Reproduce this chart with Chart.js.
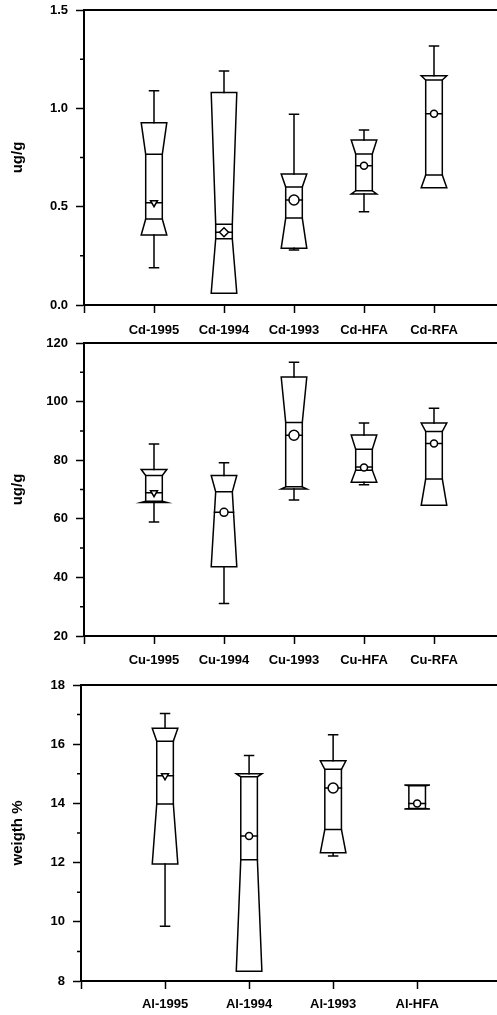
<!DOCTYPE html>
<html>
<head>
<meta charset="utf-8">
<script src="https://cdn.jsdelivr.net/npm/chart.js@4.4.1/dist/chart.umd.min.js"></script>
<style>
  html, body { margin: 0; padding: 0; background: #fff; }
  body { width: 497px; height: 1015px; position: relative; overflow: hidden; }
  canvas { position: absolute; left: 0; }
</style>
</head>
<body>
<canvas id="cdChart" width="497" height="345" style="top:0px"></canvas>
<canvas id="cuChart" width="497" height="345" style="top:333px"></canvas>
<canvas id="alChart" width="497" height="340" style="top:675px"></canvas>
<script>
// each box: [lower whisker, Q1, notch low, median, notch high, Q3, upper whisker]
const cdCategories = ["Cd-1995", "Cd-1994", "Cd-1993", "Cd-HFA", "Cd-RFA"];
const cdBoxes = [
    [0.19, 0.356, 0.437, 0.52, 0.766, 0.927, 1.09],
    [null, 0.06, 0.337, 0.37, 0.41, 1.08, 1.19],
    [0.28, 0.288, 0.442, 0.534, 0.60, 0.666, 0.97],
    [0.474, 0.564, 0.581, 0.708, 0.768, 0.839, 0.89],
    [null, 0.596, 0.661, 0.973, 1.144, 1.166, 1.317]
];
const cdMeans = [0.52, 0.37, 0.534, 0.708, 0.973];

const cuCategories = ["Cu-1995", "Cu-1994", "Cu-1993", "Cu-HFA", "Cu-RFA"];
const cuBoxes = [
    [58.9, 65.6, 66.0, 68.9, 74.8, 76.8, 85.5],
    [31.1, 43.6, 69.2, 62.2, 69.2, 74.8, 79.1],
    [66.4, 70.2, 70.9, 88.5, 92.9, 108.4, 113.4],
    [71.6, 72.5, 76.6, 77.7, 83.7, 88.6, 92.7],
    [null, 64.6, 73.6, 85.7, 89.8, 92.7, 97.7]
];
const cuMeans = [68.9, 62.2, 88.5, 77.5, 85.7];

const alCategories = ["Al-1995", "Al-1994", "Al-1993", "Al-HFA"];
const alBoxes = [
    [9.85, 11.95, 13.98, 14.93, 16.1, 16.54, 17.04],
    [null, 8.33, 12.1, 12.9, 14.9, 15.0, 15.62],
    [12.22, 12.33, 13.12, 14.52, 15.15, 15.44, 16.32],
    [null, 13.81, 13.83, 14.0, 14.6, 14.62, null]
];
const alMeans = [14.93, 12.9, 14.52, 14.0];

Chart.defaults.color = "#000";
Chart.defaults.font.family = "'Liberation Sans', Arial, sans-serif";

// draws the notched boxes + whiskers from the box arrays through the chart scales
const notchBoxes = {
    id: "notchBoxes",
    beforeDatasetsDraw(chart, args, opts) {
        const { ctx, chartArea, scales: { x, y } } = chart;
        const W = opts.wide, w = opts.narrow, cap = 4.5;
        ctx.save();
        ctx.strokeStyle = "#000";
        ctx.lineCap = "butt";

        // top frame line
        ctx.lineWidth = 2;
        ctx.beginPath();
        ctx.moveTo(chartArea.left, chartArea.top);
        ctx.lineTo(chartArea.right, chartArea.top);
        ctx.stroke();

        // short minor ticks on the y axis (the unlabelled ones)
        ctx.lineWidth = 1.5;
        ctx.beginPath();
        y.ticks.forEach(t => {
            if (t.label === "") {
                const p = y.getPixelForValue(t.value);
                ctx.moveTo(chartArea.left - 4, p);
                ctx.lineTo(chartArea.left, p);
            }
        });
        ctx.stroke();

        ctx.lineCap = "square";
        opts.boxes.forEach((b, i) => {
            const [wLo, q1, nLo, med, nHi, q3, wHi] = b;
            const cx = x.getPixelForValue(i + 1);
            const py = v => y.getPixelForValue(v);
            // half width of the body at a given value
            const halfAt = v => {
                if (v >= nHi) return q3 === nHi ? w : w + (W - w) * (v - nHi) / (q3 - nHi);
                if (v <= nLo) return q1 === nLo ? w : w + (W - w) * (nLo - v) / (nLo - q1);
                return w;
            };

            ctx.beginPath();
            ctx.moveTo(cx - W, py(q3));
            ctx.lineTo(cx + W, py(q3));
            ctx.lineTo(cx + w, py(nHi));
            ctx.lineTo(cx + w, py(nLo));
            ctx.lineTo(cx + W, py(q1));
            ctx.lineTo(cx - W, py(q1));
            ctx.lineTo(cx - w, py(nLo));
            ctx.lineTo(cx - w, py(nHi));
            ctx.closePath();
            ctx.stroke();

            ctx.beginPath();
            [nLo, nHi].forEach(v => {
                ctx.moveTo(cx - w, py(v));
                ctx.lineTo(cx + w, py(v));
            });
            const hm = halfAt(med);
            ctx.moveTo(cx - hm, py(med));
            ctx.lineTo(cx + hm, py(med));

            if (wHi !== null) {
                ctx.moveTo(cx, py(q3));
                ctx.lineTo(cx, py(wHi));
                ctx.moveTo(cx - cap, py(wHi));
                ctx.lineTo(cx + cap, py(wHi));
            }
            if (wLo !== null) {
                ctx.moveTo(cx, py(q1));
                ctx.lineTo(cx, py(wLo));
                ctx.moveTo(cx - cap, py(wLo));
                ctx.lineTo(cx + cap, py(wLo));
            }
            ctx.stroke();
        });
        ctx.restore();
    }
};

function makeChart(id, cats, boxes, means, cfg) {
    const ctx = document.getElementById(id).getContext("2d");
    return new Chart(ctx, {
        type: "scatter",
        data: {
            datasets: [{
                data: means.map((m, i) => ({ x: i + 1, y: m })),
                pointStyle: cfg.styles,
                pointRadius: cfg.radii,
                rotation: cfg.rotations,
                backgroundColor: "#fff",
                borderColor: "#000",
                borderWidth: 1.5,
                showLine: false
            }]
        },
        options: {
            responsive: false,
            animation: false,
            events: [],
            layout: { autoPadding: false, padding: { top: 10, left: 0, right: 0, bottom: 0 } },
            plugins: {
                legend: { display: false },
                tooltip: { enabled: false },
                notchBoxes: { boxes: boxes, wide: 12.8, narrow: 8.3 }
            },
            scales: {
                x: {
                    type: "linear",
                    min: 0,
                    max: cfg.xMax,
                    afterBuildTicks: s => { s.ticks = s.ticks.filter(t => Number.isInteger(t.value)); },
                    afterFit: s => {
                        s.height = cfg.xHeight;
                        s.paddingLeft = 0;
                        s.paddingRight = 0;
                    },
                    ticks: {
                        stepSize: 1,
                        autoSkip: false,
                        maxRotation: 0,
                        padding: cfg.xPad,
                        font: { size: 13, weight: "bold" },
                        callback: v => cats[v - 1] || ""
                    },
                    grid: { drawOnChartArea: false, tickLength: 8, tickColor: "#000", tickWidth: 1.5 },
                    border: { display: true, color: "#000", width: 2 }
                },
                y: {
                    min: cfg.yMin,
                    max: cfg.yMax,
                    afterFit: s => {
                        s.width = cfg.yWidth;
                        s.paddingTop = 0;
                        s.paddingBottom = 0;
                    },
                    ticks: {
                        stepSize: cfg.minor,
                        autoSkip: false,
                        padding: 8,
                        font: { size: 13, weight: "bold" },
                        callback: v => {
                            const r = v / cfg.major;
                            return Math.abs(r - Math.round(r)) < 1e-6 ? v.toFixed(cfg.digits) : "";
                        }
                    },
                    grid: {
                        drawOnChartArea: false,
                        tickLength: 8,
                        tickWidth: 1.5,
                        // minor ticks drawn shorter by the plugin
                        tickColor: c => (c.tick && c.tick.label === "") ? "rgba(0,0,0,0)" : "#000"
                    },
                    border: { display: true, color: "#000", width: 2 },
                    title: {
                        display: true,
                        text: cfg.title,
                        padding: 9,
                        font: { size: 15, weight: "bold" }
                    }
                }
            }
        },
        plugins: [notchBoxes]
    });
}

makeChart("cdChart", cdCategories, cdBoxes, cdMeans, {
    xMax: 5.9, xHeight: 40, xPad: 10, yWidth: 84,
    yMin: 0, yMax: 1.5, minor: 0.25, major: 0.5, digits: 1, title: "ug/g",
    styles: ["triangle", "rectRot", "circle", "circle", "circle"],
    radii: [4, 4.5, 5, 3.5, 3.5],
    rotations: [180, 0, 0, 0, 0]
});

makeChart("cuChart", cuCategories, cuBoxes, cuMeans, {
    xMax: 5.9, xHeight: 42, xPad: 9, yWidth: 84,
    yMin: 20, yMax: 120, minor: 10, major: 20, digits: 0, title: "ug/g",
    styles: ["triangle", "circle", "circle", "circle", "circle"],
    radii: [4, 4, 5, 3.5, 3.5],
    rotations: [180, 0, 0, 0, 0]
});

makeChart("alChart", alCategories, alBoxes, alMeans, {
    xMax: 4.95, xHeight: 34, xPad: 8, yWidth: 81,
    yMin: 8, yMax: 18, minor: 1, major: 2, digits: 0, title: "weigth %",
    styles: ["triangle", "circle", "circle", "circle"],
    radii: [4, 3.5, 5, 3.5],
    rotations: [180, 0, 0, 0]
});
</script>
</body>
</html>
